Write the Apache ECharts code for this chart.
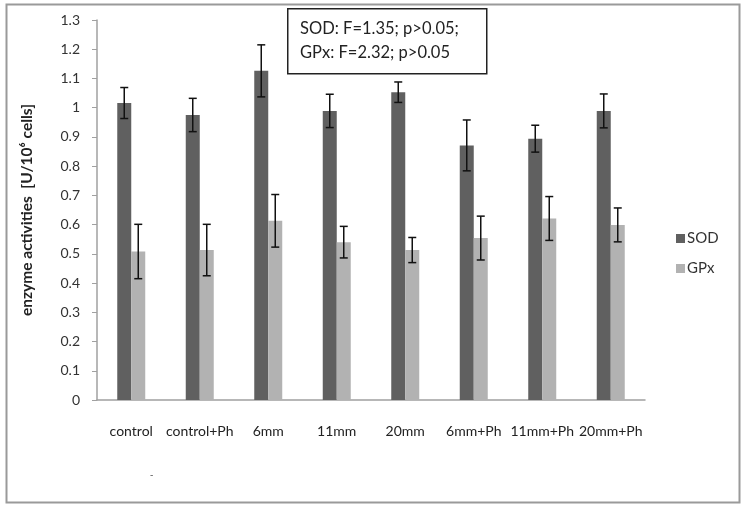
<!DOCTYPE html>
<html>
<head>
<meta charset="utf-8">
<script src="https://cdn.jsdelivr.net/npm/echarts@6/dist/echarts.min.js"></script>
<style>
  html, body { margin: 0; padding: 0; background: #fff; }
  #chart { width: 742px; height: 505px; }
</style>
</head>
<body>
<div id="chart"></div>
<script>
  // data
  var categories = ['control', 'control+Ph', '6mm', '11mm', '20mm', '6mm+Ph', '11mm+Ph', '20mm+Ph'];
  var sodValues = [1.016, 0.975, 1.126, 0.989, 1.053, 0.871, 0.894, 0.989];
  var sodErrors = [0.053, 0.057, 0.089, 0.057, 0.035, 0.087, 0.046, 0.058];
  var gpxValues = [0.508, 0.513, 0.613, 0.540, 0.513, 0.554, 0.621, 0.599];
  var gpxErrors = [0.093, 0.088, 0.090, 0.054, 0.043, 0.075, 0.075, 0.058];
  var statLines = ['SOD: F=1.35; p>0.05;', 'GPx: F=2.32; p>0.05'];

  var barW = 14;

  function errData (vals, errs) {
    return vals.map(function (v, i) {
      return [i, v - errs[i], v + errs[i]];
    });
  }

  function errRender (shift) {
    return function (params, api) {
      var hi = api.coord([api.value(0), api.value(2)]);
      var lo = api.coord([api.value(0), api.value(1)]);
      var x = hi[0] + shift;
      var cap = 4;
      var st = { stroke: '#111', lineWidth: 1.5 };
      return {
        type: 'group',
        children: [
          { type: 'line', shape: { x1: x, y1: hi[1], x2: x, y2: lo[1] }, style: st },
          { type: 'line', shape: { x1: x - cap, y1: hi[1], x2: x + cap, y2: hi[1] }, style: st },
          { type: 'line', shape: { x1: x - cap, y1: lo[1], x2: x + cap, y2: lo[1] }, style: st }
        ]
      };
    };
  }

  var myChart = echarts.init(document.getElementById('chart'));
  var option = {
    backgroundColor: '#fff',
    animation: false,
    textStyle: { fontFamily: 'Lato' },
    grid: { left: 97, right: 97, top: 20, bottom: 105 },
    legend: {
      orient: 'vertical',
      left: 671,
      top: 226,
      itemWidth: 9,
      itemHeight: 9,
      itemGap: 15,
      icon: 'rect',
      textStyle: { fontSize: 15, color: '#333', padding: [0, 0, 0, -3] },
      data: ['SOD', 'GPx']
    },
    xAxis: {
      type: 'category',
      data: categories,
      axisLine: { lineStyle: { color: '#a0a0a0', width: 1.5 } },
      axisTick: { show: false },
      axisLabel: { fontSize: 14, color: '#222', margin: 24, interval: 0 }
    },
    yAxis: {
      type: 'value',
      min: 0,
      max: 1.3,
      interval: 0.1,
      name: 'enzyme activities  [U/10⁶ cells]',
      nameLocation: 'middle',
      nameGap: 62,
      nameTextStyle: { fontSize: 15.5, fontWeight: 'bold', color: '#222' },
      splitLine: { show: false },
      axisLine: { show: true, lineStyle: { color: '#a0a0a0', width: 1.5 } },
      axisTick: { show: true, length: 5, lineStyle: { color: '#a0a0a0' } },
      axisLabel: {
        fontSize: 14,
        color: '#333',
        margin: 17,
        formatter: function (v) { return String(Math.round(v * 10) / 10); }
      }
    },
    series: [
      {
        name: 'SOD',
        type: 'bar',
        data: sodValues,
        barWidth: barW,
        barGap: '0%',
        itemStyle: { color: '#606060' }
      },
      {
        name: 'GPx',
        type: 'bar',
        data: gpxValues,
        barWidth: barW,
        itemStyle: { color: '#b2b2b2' }
      },
      {
        type: 'custom',
        name: 'SOD err',
        data: errData(sodValues, sodErrors),
        encode: { x: 0, y: [1, 2] },
        renderItem: errRender(-barW / 2),
        z: 5
      },
      {
        type: 'custom',
        name: 'GPx err',
        data: errData(gpxValues, gpxErrors),
        encode: { x: 0, y: [1, 2] },
        renderItem: errRender(barW / 2),
        z: 5
      }
    ],
    graphic: [
      {
        type: 'rect',
        left: 4,
        top: 2,
        shape: { width: 733, height: 498 },
        style: { fill: 'none', stroke: '#9a9a9a', lineWidth: 2 },
        silent: true
      },
      {
        type: 'rect',
        left: 287,
        top: 8,
        shape: { width: 199, height: 65 },
        style: { fill: '#fff', stroke: '#222', lineWidth: 1.5 },
        z: 10
      },
      {
        type: 'text',
        left: 300,
        top: 17,
        style: {
          text: statLines.join('\n'),
          fontSize: 16.5,
          lineHeight: 24,
          fill: '#222',
          fontFamily: 'Lato'
        },
        z: 11
      },
      {
        type: 'text',
        left: 150,
        top: 470,
        style: { text: '-', fontSize: 10, fill: '#666' }
      }
    ]
  };
  myChart.setOption(option);
</script>
</body>
</html>
